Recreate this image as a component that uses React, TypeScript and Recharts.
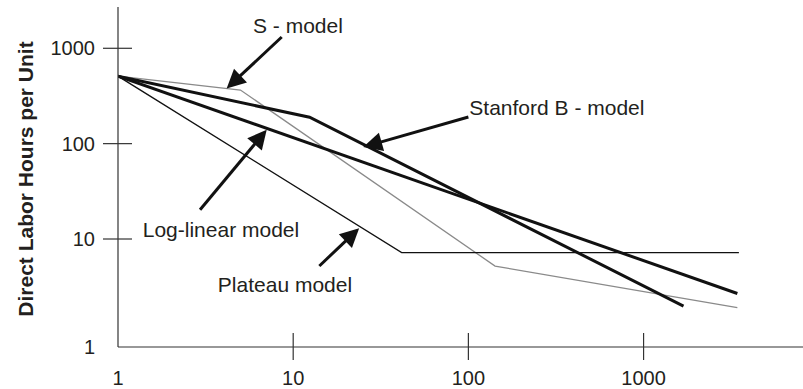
import { LineChart, Line, XAxis, YAxis, ReferenceLine, ReferenceDot } from 'recharts';

// learning curve models (units vs hours per unit)
const sModel = [
  { x: 1, y: 510 },
  { x: 5, y: 365 },
  { x: 142, y: 5.2 },
  { x: 3430, y: 1.91 },
];
const stanfordB = [
  { x: 1, y: 510 },
  { x: 12.4, y: 189 },
  { x: 1690, y: 1.98 },
];
const logLinear = [
  { x: 1, y: 510 },
  { x: 3430, y: 2.68 },
];
const plateau = [
  { x: 1, y: 510 },
  { x: 41.6, y: 7.2 },
  { x: 3500, y: 7.2 },
];

const xTicks = [1, 10, 100, 1000];
const yTickValues = [0.737, 10, 100, 1000];
const yTickLabels = ['1', '10', '100', '1000'];

// annotation arrows: tail -> tip, in data units
const arrows = [
  { id: 's', from: [8.6, 1314], to: [4.17, 378] },
  { id: 'stanford', from: [100, 190], to: [25.1, 92.2] },
  { id: 'loglinear', from: [2.94, 20.3], to: [7.06, 140] },
  { id: 'plateau', from: [14.1, 5.21], to: [23.8, 13.0] },
];

const notes = [
  { text: 'S - model', x: 10.65, y: 1742 },
  { text: 'Stanford B - model', x: 320, y: 240 },
  { text: 'Log-linear model', x: 3.87, y: 12.6 },
  { text: 'Plateau model', x: 8.98, y: 3.35 },
];

const FONT = '"Liberation Sans", Arial, Helvetica, sans-serif';
const INK = '#231f20';

const XTick = (props: any) => {
  const { x, y, payload, index } = props;
  return (
    <g>
      {index > 0 && <line x1={x} x2={x} y1={y - 14} y2={y + 13} stroke="#333" strokeWidth={1.2} />}
      <text x={x} y={y + 38} textAnchor="middle" fontSize={20} fill={INK} fontFamily={FONT}>
        {payload.value}
      </text>
    </g>
  );
};

const YTick = (props: any) => {
  const { x, y, index } = props;
  return (
    <g>
      {index > 0 && <line x1={x - 15} x2={x + 14} y1={y} y2={y} stroke="#333" strokeWidth={1.2} />}
      <text x={x - 23} y={y + 7} textAnchor="end" fontSize={20} fill={INK} fontFamily={FONT}>
        {yTickLabels[index]}
      </text>
    </g>
  );
};

const Arrow = (props: any) => {
  const { x1, y1, x2, y2 } = props;
  const dx = x2 - x1;
  const dy = y2 - y1;
  const len = Math.sqrt(dx * dx + dy * dy);
  const ux = dx / len;
  const uy = dy / len;
  const head = 19;
  const half = 9.5;
  const bx = x2 - ux * head;
  const by = y2 - uy * head;
  const pts = `${x2},${y2} ${bx - uy * half},${by + ux * half} ${bx + uy * half},${by - ux * half}`;
  return (
    <g>
      <line x1={x1} y1={y1} x2={bx + ux * 2} y2={by + uy * 2} stroke="#111" strokeWidth={3} />
      <polygon points={pts} fill="#111" />
    </g>
  );
};

const Note = (text: string) => (props: any) => (
  <text
    x={props.cx}
    y={props.cy}
    textAnchor="middle"
    dominantBaseline="central"
    fontSize={21}
    fill={INK}
    fontFamily={FONT}
  >
    {text}
  </text>
);

export default function App() {
  return (
    <div style={{ position: 'absolute', left: 0, top: 0, width: 803, height: 389, background: '#fff' }}>
      <LineChart width={803} height={389} margin={{ top: 7, right: 0, bottom: 12, left: 0 }}>
        <XAxis
          dataKey="x"
          type="number"
          scale="log"
          domain={[1, 8128]}
          allowDataOverflow
          ticks={xTicks}
          tick={<XTick />}
          tickLine={false}
          tickSize={0}
          tickMargin={0}
          height={30}
          axisLine={{ stroke: '#333', strokeWidth: 1.2 }}
        />
        <YAxis
          type="number"
          scale="log"
          domain={[0.737, 2710]}
          allowDataOverflow
          ticks={yTickValues}
          tick={<YTick />}
          tickLine={false}
          tickSize={0}
          tickMargin={0}
          width={118}
          axisLine={{ stroke: '#333', strokeWidth: 1.2 }}
          label={{
            content: (p: any) => {
              const vb = p.viewBox;
              const cx = vb.x + 25;
              const cy = vb.y + vb.height / 2 + 2;
              return (
                <text
                  x={cx}
                  y={cy}
                  transform={`rotate(-90, ${cx}, ${cy})`}
                  textAnchor="middle"
                  dominantBaseline="central"
                  fontSize={21}
                  fontWeight="bold"
                  fill={INK}
                  fontFamily={FONT}
                >
                  Direct Labor Hours per Unit
                </text>
              );
            },
          }}
        />
        <Line data={sModel} dataKey="y" stroke="#8a8a8a" strokeWidth={1.3} dot={false} isAnimationActive={false} />
        <Line data={plateau} dataKey="y" stroke="#111" strokeWidth={1.3} dot={false} isAnimationActive={false} />
        <Line data={logLinear} dataKey="y" stroke="#111" strokeWidth={3} dot={false} isAnimationActive={false} />
        <Line data={stanfordB} dataKey="y" stroke="#111" strokeWidth={3} dot={false} isAnimationActive={false} />
        {arrows.map((a) => (
          <ReferenceLine
            key={a.id}
            segment={[
              { x: a.from[0], y: a.from[1] },
              { x: a.to[0], y: a.to[1] },
            ]}
            ifOverflow="visible"
            shape={Arrow}
          />
        ))}
        {notes.map((n) => (
          <ReferenceDot key={n.text} x={n.x} y={n.y} r={0} ifOverflow="visible" shape={Note(n.text)} />
        ))}
      </LineChart>
    </div>
  );
}
